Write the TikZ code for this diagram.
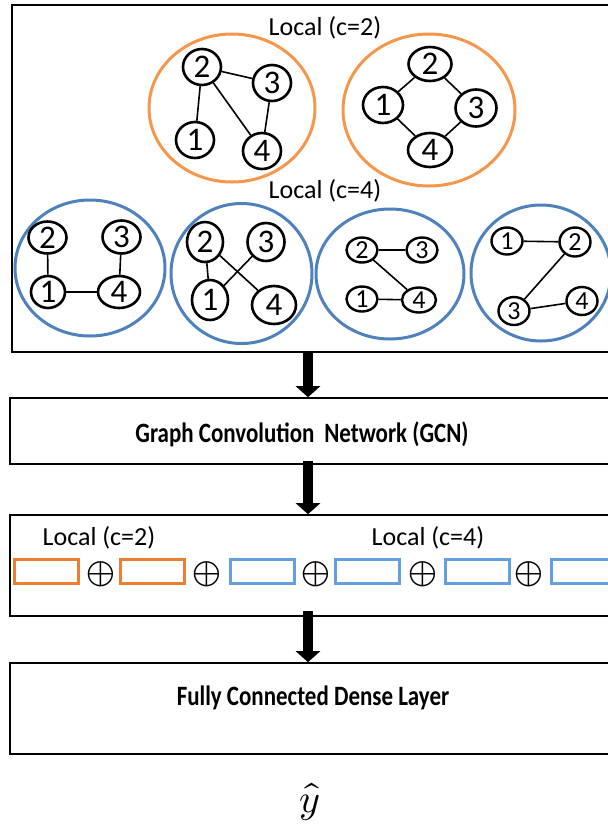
\documentclass[tikz,border=0pt]{standalone}
\usepackage{fontspec}
\usepackage{unicode-math}
\setmainfont{Carlito}
\setmathfont{Latin Modern Math}
\newfontfamily\narrowfont[FakeStretch=0.82]{Carlito}
\usetikzlibrary{arrows.meta,shapes.geometric}
\definecolor{ringorange}{RGB}{245,150,75}
\definecolor{ringblue}{RGB}{79,129,189}
\definecolor{slotorange}{RGB}{237,125,49}
\definecolor{slotblue}{RGB}{100,160,225}
\tikzset{
	vertex/.style={ellipse, draw, line width=2.6pt, inner sep=0pt, minimum width=38pt, minimum height=36pt, font=\fontsize{33}{33}\selectfont},
	smallvertex/.style={vertex, minimum width=31pt, minimum height=25pt, line width=2.4pt, font=\fontsize{26}{26}\selectfont},
	link/.style={line width=1.6pt},
	orangering/.style={draw=ringorange, line width=3pt},
	bluering/.style={draw=ringblue, line width=3pt},
	panel/.style={draw, line width=1.6pt, inner sep=0pt},
	flowarrow/.style={line width=10pt, -{Triangle[width=24pt,length=11pt]}},
	caption/.style={inner sep=1pt, font=\fontsize{26}{26}\selectfont},
	layertext/.style={font=\narrowfont\bfseries\fontsize{28}{28}\selectfont},
	slot/.style={draw, line width=3pt, minimum width=64pt, minimum height=24pt, inner sep=0pt},
	joinsign/.style={inner sep=0pt, text height=18pt, text depth=0pt, font=\fontsize{37}{37}\selectfont}
}
\begin{document}
\begin{tikzpicture}[x=1pt, y=-1pt]
	\useasboundingbox ( 0, 0 ) rectangle ( 608, 831 );

	% blocks of the pipeline
	\node [panel, minimum width=622pt, minimum height=347pt] (graphs) at ( 323, 178.5 ) {};
	\node [panel, minimum width=624pt, minimum height=66pt] (gcn) at ( 322, 431 ) {};
	\node [panel, minimum width=624pt, minimum height=101pt] (concat) at ( 322, 565.5 ) {};
	\node [panel, minimum width=624pt, minimum height=91pt] (dense) at ( 322, 708.5 ) {};
	\coordinate (spine) at ( 308, 0 );

	% local (c=2)
	\node [caption] (localtwo) at ( 325, 28 ) {Local (c=2)};
	\draw [orangering] ( 232, 108 ) ellipse [x radius=83, y radius=74];
	\draw [orangering] ( 429, 110 ) ellipse [x radius=86, y radius=76];

	% graph a
	\node [vertex] (a2) at ( 202, 67 ) {2};
	\node [vertex] (a3) at ( 272, 83 ) {3};
	\node [vertex] (a1) at ( 195, 140 ) {1};
	\node [vertex] (a4) at ( 262, 151 ) {4};
	\draw [link] (a2) -- (a3);
	\draw [link] (a2) -- (a1);
	\draw [link] (a2) -- (a4);
	\draw [link] (a3) -- (a4);

	% graph b
	\node [vertex, minimum width=43pt, minimum height=34pt] (b2) at ( 430, 64 ) {2};
	\node [vertex, minimum width=40pt, minimum height=36pt] (b1) at ( 383, 105 ) {1};
	\node [vertex, minimum width=41pt, minimum height=37pt] (b3) at ( 476, 108 ) {3};
	\node [vertex, minimum width=44pt, minimum height=34pt] (b4) at ( 430, 150 ) {4};
	\draw [link] (b2) -- (b1);
	\draw [link] (b2) -- (b3);
	\draw [link] (b1) -- (b4);
	\draw [link] (b3) -- (b4);

	% local (c=4)
	\node [caption] (localfour) at ( 325, 191 ) {Local (c=4)};
	\draw [bluering] ( 90, 268 ) ellipse [x radius=75, y radius=68];
	\draw [bluering] ( 241.5, 273.5 ) ellipse [x radius=70.5, y radius=70];
	\draw [bluering] ( 390, 274 ) ellipse [x radius=74, y radius=65];
	\draw [bluering] ( 541, 273 ) ellipse [x radius=70, y radius=68];

	% graph c
	\node [vertex, minimum width=38pt, minimum height=32pt] (c2) at ( 47.5, 237.5 ) {2};
	\node [vertex, minimum width=38pt, minimum height=33pt] (c3) at ( 121.5, 237 ) {3};
	\node [vertex, minimum width=34pt, minimum height=32pt] (c1) at ( 48, 292 ) {1};
	\node [vertex, minimum width=42pt, minimum height=32pt] (c4) at ( 119, 292 ) {4};
	\draw [link] (c2) -- (c1);
	\draw [link] (c3) -- (c4);
	\draw [link] (c1) -- (c4);

	% graph d
	\node [vertex, minimum width=36pt, minimum height=40pt] (d2) at ( 205, 242 ) {2};
	\node [vertex, minimum width=37pt, minimum height=38pt] (d3) at ( 266, 242 ) {3};
	\node [vertex, minimum width=36pt, minimum height=40pt] (d1) at ( 210, 300 ) {1};
	\node [vertex, minimum width=44pt, minimum height=38pt] (d4) at ( 274, 305 ) {4};
	\draw [link] (d2) -- (d1);
	\draw [link] (d2) -- (d4);
	\draw [link] (d3) -- (d1);

	% graph e
	\node [smallvertex] (e2) at ( 362, 250 ) {2};
	\node [smallvertex] (e3) at ( 422, 250 ) {3};
	\node [smallvertex] (e1) at ( 362, 299 ) {1};
	\node [smallvertex, minimum width=34pt] (e4) at ( 419, 300 ) {4};
	\draw [link] (e2) -- (e3);
	\draw [link] (e2) -- (e4);
	\draw [link] (e1) -- (e4);

	% graph f
	\node [smallvertex, minimum height=27pt] (f1) at ( 507, 241 ) {1};
	\node [smallvertex, minimum height=29pt] (f2) at ( 575, 242 ) {2};
	\node [smallvertex, minimum height=28pt] (f3) at ( 514, 311 ) {3};
	\node [smallvertex, minimum height=28pt] (f4) at ( 582, 301 ) {4};
	\draw [link] (f1) -- (f2);
	\draw [link] (f2) -- (f3);
	\draw [link] (f3) -- (f4);

	% gcn
	\node [layertext] (gcntext) at ( 302, 434 ) {Graph Convolution\, Network (GCN)};

	% concatenation
	\node [caption] (sumtwo) at ( 99, 538 ) {Local (c=2)};
	\node [caption] (sumfour) at ( 428, 538 ) {Local (c=4)};
	\node [slot, draw=slotorange] (s1) at ( 46, 571 ) {};
	\node [joinsign] (p1) at ( 100.5, 574 ) {$\oplus$};
	\node [slot, draw=slotorange] (s2) at ( 152, 571 ) {};
	\node [joinsign] (p2) at ( 207, 574 ) {$\oplus$};
	\node [slot, draw=slotblue] (s3) at ( 262, 571 ) {};
	\node [joinsign] (p3) at ( 316, 574 ) {$\oplus$};
	\node [slot, draw=slotblue] (s4) at ( 367.5, 571 ) {};
	\node [joinsign] (p4) at ( 423, 574 ) {$\oplus$};
	\node [slot, draw=slotblue] (s5) at ( 477, 571 ) {};
	\node [joinsign] (p5) at ( 529, 574 ) {$\oplus$};
	\node [slot, draw=slotblue] (s6) at ( 583, 571 ) {};

	% dense
	\node [layertext] (densetext) at ( 313, 698 ) {Fully Connected Dense Layer};
	\node [font=\fontsize{40}{40}\selectfont] (yhat) at ( 310, 802 ) {$\hat{y}$};

	% arrows
	\draw [flowarrow] (graphs.south -| spine) -- (gcn.north -| spine);
	\draw [flowarrow] ([yshift=4pt]gcn.south -| spine) -- (concat.north -| spine);
	\draw [flowarrow] ([yshift=6pt]concat.south -| spine) -- (dense.north -| spine);
\end{tikzpicture}
\end{document}
